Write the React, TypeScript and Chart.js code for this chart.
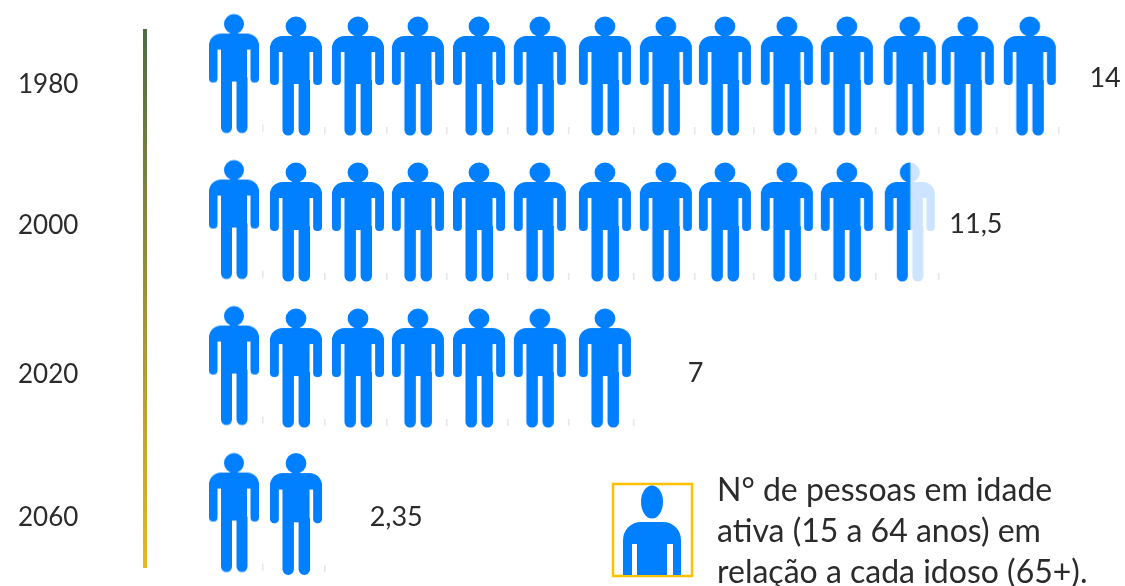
import React, { useEffect, useRef } from "react";
import { Chart, registerables } from "chart.js";

Chart.register(...registerables);

// --- data ---
const years = ["1980", "2000", "2020", "2060"];
const values = [14, 11.5, 7, 2.35];
const valueLabels = ["14", "11,5", "7", "2,35"];
const peopleShown = [14, 11.5, 7, 2];
const legendLines = [
  "N° de pessoas em idade",
  "ativa (15 a 64 anos) em",
  "relação a cada idoso (65+).",
];

// --- layout, in scale units ---
const columnPos = [0, 1.013, 2.025, 3.005, 4.002, 4.997, 6.059, 7.055, 8.02, 9.031, 10.012, 11.04, 11.987, 13];
const firstColumnLift = [-0.017, -0.017, -0.017, -0.01];
const yearTickPos = [0.062, 1.028, 2.048, 3.028];
const valueLabelX = [14.23, 12.12, 7.54, 2.65];
const valueLabelY = [0.014, 1.014, 2.034, 3.021];

const BLUE = "#007fff";
const PALE = "#cce4ff";
const INK = "#2b2b2b";
const FONT = "Lato";

function personPath(c: CanvasRenderingContext2D) {
  c.beginPath();
  c.arc(0, -49.5, 10, 0, Math.PI * 2);
  c.closePath();
  c.roundRect(-25, -40, 50, 16, [12, 12, 0, 0]);
  c.roundRect(-25, -30, 8.5, 39, [0, 0, 4, 4]);
  c.roundRect(16.5, -30, 8.5, 39, [0, 0, 4, 4]);
  c.rect(-13, -40, 26, 48);
  c.roundRect(-13, 4, 11, 55.5, [0, 0, 5.5, 5.5]);
  c.roundRect(2.5, 4, 11, 55.5, [0, 0, 5.5, 5.5]);
  c.fill("nonzero");
}

function makeSprite(w: number, h: number, half: boolean) {
  const s = document.createElement("canvas");
  s.width = 90;
  s.height = 150;
  const c = s.getContext("2d")!;
  c.translate(45, 75);
  c.fillStyle = "#e6e6e6";
  c.fillRect(28, 51, 1.5, 7);
  (c as any).filter = "blur(0.5px)";
  c.scale(w / 50, h / 119);
  if (half) {
    c.fillStyle = PALE;
    personPath(c);
    c.beginPath();
    c.rect(-45, -75, 45.5, 150);
    c.clip();
  }
  c.fillStyle = BLUE;
  personPath(c);
  return s;
}

const legendPlugin = {
  id: "notes",
  afterDraw(chart: any) {
    const c: CanvasRenderingContext2D = chart.ctx;
    const { x, y } = chart.scales;
    c.save();
    // value labels
    c.fillStyle = INK;
    c.font = `27px ${FONT}`;
    c.textAlign = "center";
    c.textBaseline = "middle";
    values.forEach((_, i) => {
      c.fillText(valueLabels[i], x.getPixelForValue(valueLabelX[i]), y.getPixelForValue(valueLabelY[i]));
    });
    // legend key
    c.strokeStyle = "#ffc000";
    c.lineWidth = 2.5;
    c.strokeRect(613, 484, 79, 92);
    c.fillStyle = BLUE;
    c.beginPath();
    c.ellipse(652, 502, 11, 16.5, 0, 0, Math.PI * 2);
    c.fill();
    c.beginPath();
    c.roundRect(623, 522, 58, 53, [18, 18, 0, 0]);
    c.fill();
    c.fillStyle = "#ffffff";
    c.fillRect(632, 544, 5, 31);
    c.fillRect(667, 544, 6, 31);
    // legend text
    c.fillStyle = INK;
    c.font = `32px ${FONT}`;
    c.textAlign = "left";
    c.textBaseline = "alphabetic";
    legendLines.forEach((t, i) => c.fillText(t, 717, 501 + i * 41));
    c.restore();
  },
};

export default function App() {
  const ref = useRef<HTMLCanvasElement>(null);
  useEffect(() => {
    const canvas = ref.current!;
    const narrow = makeSprite(50, 119, false);
    const wide = makeSprite(52, 119, false);
    const tall = makeSprite(52, 122, false);
    const half = makeSprite(50, 119, true);

    const g = canvas.getContext("2d")!.createLinearGradient(0, 29, 0, 567);
    g.addColorStop(0, "#4f6b47");
    g.addColorStop(0.5, "#9a9436");
    g.addColorStop(1, "#e6b91e");

    const datasets = years.map((year, r) => {
      const shown = peopleShown[r];
      const n = Math.ceil(shown);
      const pts = Array.from({ length: n }, (_, i) => ({
        x: columnPos[i],
        y: r + (i === 0 ? firstColumnLift[r] : 0),
      }));
      const styles = pts.map((_, i) => {
        if (i === n - 1 && shown % 1 !== 0) return half;
        if (i === 0) return narrow;
        return r === 3 ? tall : wide;
      });
      return {
        label: year,
        data: pts,
        pointStyle: styles,
        pointRadius: 0.2,
        pointBorderWidth: 0,
        borderWidth: 0,
        showLine: false,
        clip: false as any,
      };
    });

    const chart = new Chart(canvas, {
      type: "scatter",
      data: { datasets },
      plugins: [legendPlugin],
      options: {
        animation: false,
        responsive: false,
        layout: { padding: { left: 18, top: 31, bottom: 19, right: 0 } },
        plugins: { legend: { display: false }, tooltip: { enabled: false } },
        scales: {
          x: { type: "linear", display: false, min: -1.4535, max: 14.49 },
          y: {
            type: "linear",
            reverse: true,
            min: -0.3082,
            max: 3.363,
            afterBuildTicks: (s: any) => {
              s.ticks = yearTickPos.map((value) => ({ value }));
            },
            afterFit: (s: any) => {
              s.width = 127;
            },
            grid: { display: false, drawTicks: false },
            border: { display: true, color: g as any, width: 4 },
            ticks: {
              autoSkip: false,
              crossAlign: "far",
              padding: 0,
              color: INK,
              font: { family: FONT, size: 26 },
              callback: (_v: any, i: number) => years[i],
            },
          },
        },
      } as any,
    });
    return () => chart.destroy();
  }, []);
  return (
    <canvas
      ref={ref}
      width={1125}
      height={586}
      style={{ position: "fixed", left: 0, top: 0, display: "block", background: "#fff" }}
    />
  );
}
